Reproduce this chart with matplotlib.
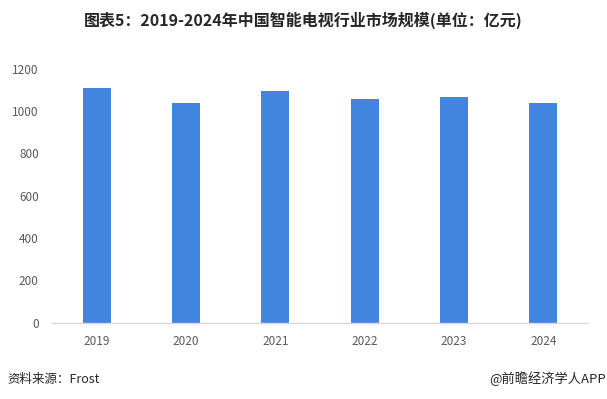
import matplotlib as mpl
mpl.use("Agg")
import matplotlib.pyplot as plt

plt.rcParams["font.family"] = ["Noto Sans CJK SC", "DejaVu Sans"]

# Data
years = ["2019", "2020", "2021", "2022", "2023", "2024"]
market_size = [1108, 1037, 1094, 1058, 1066, 1037]  # 亿元
y_ticks = [0, 200, 400, 600, 800, 1000, 1200]

BAR_COLOR = "#4285DE"
TICK_COLOR = "#595959"
TEXT_COLOR = "#262626"

W, H = 607, 399
fig = plt.figure(figsize=(W / 100, H / 100), dpi=100)
# axes box in pixels: left 52, right 588, top 68.6 (1200), bottom 322.5 (0)
ax = fig.add_axes([52 / W, 1 - 322.5 / H, (588 - 52) / W, (322.5 - 68.6) / H])

x = range(len(years))
ax.bar(x, market_size, width=0.31, color=BAR_COLOR, zorder=2)

ax.set_xlim(-0.5, len(years) - 0.5)
ax.set_ylim(0, 1200)
ax.set_xticks(list(x))
ax.set_xticklabels(years)
ax.set_yticks(y_ticks)
ax.tick_params(axis="both", length=0, labelsize=8.5, colors=TICK_COLOR)
ax.tick_params(axis="y", pad=9.5)
ax.tick_params(axis="x", pad=9)

for side in ["top", "right", "left"]:
	ax.spines[side].set_visible(False)
ax.spines["bottom"].set_color("#D9D9D9")
ax.spines["bottom"].set_linewidth(1.0)

fig.text(303 / W, 1 - 20 / H, "图表5：2019-2024年中国智能电视行业市场规模(单位：亿元)",
	ha="center", va="center", fontsize=11.5, fontweight="bold", color=TEXT_COLOR)
fig.text(7 / W, 1 - 379 / H, "资料来源：Frost", ha="left", va="center",
	fontsize=9, color=TEXT_COLOR)
fig.text(606 / W, 1 - 379 / H, "@前瞻经济学人APP", ha="right", va="center",
	fontsize=9.5, color=TEXT_COLOR)

fig.savefig("out.png", dpi=100)
